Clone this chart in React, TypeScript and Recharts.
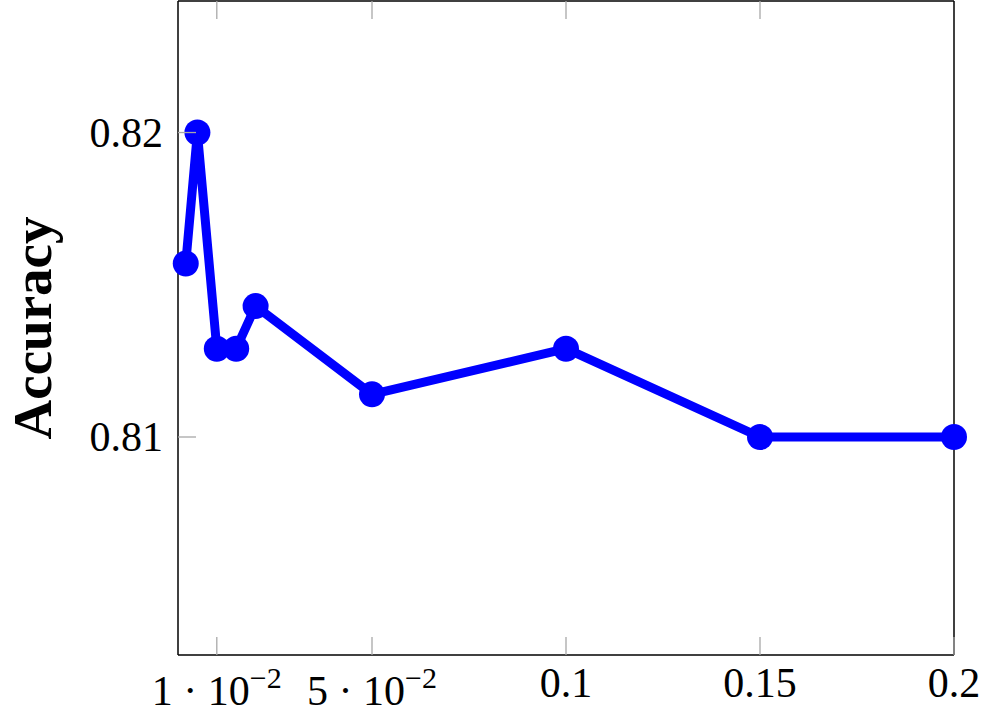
import React from 'react';
import { LineChart, Line, XAxis, YAxis } from 'recharts';

const xValues = [0.002, 0.005, 0.01, 0.015, 0.02, 0.05, 0.1, 0.15, 0.2];
const accuracy = [0.8157, 0.82, 0.8129, 0.8129, 0.8143, 0.8114, 0.8129, 0.81, 0.81];
const xTicks = [0.01, 0.05, 0.1, 0.15, 0.2];
const xTickLabels = ['1 · 10^−2', '5 · 10^−2', '0.1', '0.15', '0.2'];
const yTicks = [0.81, 0.82];
const yTickLabels = ['0.81', '0.82'];
const yTitle = 'Accuracy';

const data = xValues.map((x, i) => ({ x, acc: accuracy[i] }));

const FONT = '"Liberation Serif", "DejaVu Serif", serif';
const TICK_COLOR = '#a8a8a8';
const TICK_LEN = 18;

const BottomTick = (props: any) => {
  const { x, y, payload } = props;
  const idx = xTicks.indexOf(payload.value);
  const label = idx >= 0 ? xTickLabels[idx] : String(payload.value);
  const [base, exp] = label.split('^');
  return (
    <g>
      <line x1={x} x2={x} y1={y} y2={y - TICK_LEN} stroke={TICK_COLOR} strokeWidth={1.3} />
      <text x={x} y={y + (exp ? 50 : 42)} textAnchor="middle" fontFamily={FONT} fontSize={42} fill="#000">
        <tspan>{base}</tspan>
        {exp ? <tspan dy={-17} fontSize={30}>{exp}</tspan> : null}
      </text>
    </g>
  );
};

const TopTick = (props: any) => {
  const { x, y } = props;
  return <line x1={x} x2={x} y1={y} y2={y + TICK_LEN} stroke={TICK_COLOR} strokeWidth={1.3} />;
};

const LeftTick = (props: any) => {
  const { x, y, payload } = props;
  const idx = yTicks.indexOf(payload.value);
  const label = idx >= 0 ? yTickLabels[idx] : String(payload.value);
  return (
    <g>
      <line x1={x} x2={x + TICK_LEN} y1={y} y2={y} stroke={TICK_COLOR} strokeWidth={1.3} />
      <text x={x - 15} y={y + 14} textAnchor="end" fontFamily={FONT} fontSize={42} fill="#000">
        {label}
      </text>
    </g>
  );
};

const RightTick = (props: any) => {
  const { x, y } = props;
  return <line x1={x} x2={x - TICK_LEN} y1={y} y2={y} stroke={TICK_COLOR} strokeWidth={1.3} />;
};

export default function App() {
  return (
    <div style={{ position: 'absolute', left: 0, top: 0, width: 995, height: 719, background: '#fff' }}>
      <LineChart
        width={995}
        height={719}
        data={data}
        margin={{ top: 0, right: 40, bottom: 63, left: 177 }}
      >
        <XAxis
          dataKey="x"
          type="number"
          domain={[0, 0.2]}
          ticks={xTicks}
          interval={0}
          height={1}
          tickSize={0}
          tickMargin={0}
          tickLine={false}
          axisLine={{ stroke: '#000', strokeWidth: 1.5 }}
          tick={<BottomTick />}
        />
        <XAxis
          xAxisId="top"
          orientation="top"
          dataKey="x"
          type="number"
          domain={[0, 0.2]}
          ticks={xTicks.slice(0, 4)}
          interval={0}
          height={1}
          tickSize={0}
          tickMargin={0}
          tickLine={false}
          axisLine={{ stroke: '#000', strokeWidth: 1.5 }}
          tick={<TopTick />}
        />
        <YAxis
          type="number"
          domain={[0.80284, 0.82432]}
          ticks={yTicks}
          interval={0}
          width={1}
          tickSize={0}
          tickMargin={0}
          tickLine={false}
          axisLine={{ stroke: '#000', strokeWidth: 1.5 }}
          tick={<LeftTick />}
          label={{
            value: yTitle,
            angle: -90,
            position: 'center',
            dx: -146,
            dy: 0,
            style: { fontFamily: FONT, fontWeight: 'bold', fontSize: 55, fill: '#000' },
          }}
        />
        <YAxis
          yAxisId="right"
          orientation="right"
          type="number"
          domain={[0.80284, 0.82432]}
          ticks={yTicks}
          interval={0}
          width={1}
          tickSize={0}
          tickMargin={0}
          tickLine={false}
          axisLine={{ stroke: '#000', strokeWidth: 1.5 }}
          tick={<RightTick />}
        />
        <Line
          dataKey="acc"
          type="linear"
          stroke="#0000ff"
          strokeWidth={9}
          strokeLinejoin="round"
          dot={{ r: 13, fill: '#0000ff', stroke: 'none' }}
          activeDot={false}
          isAnimationActive={false}
        />
      </LineChart>
    </div>
  );
}
